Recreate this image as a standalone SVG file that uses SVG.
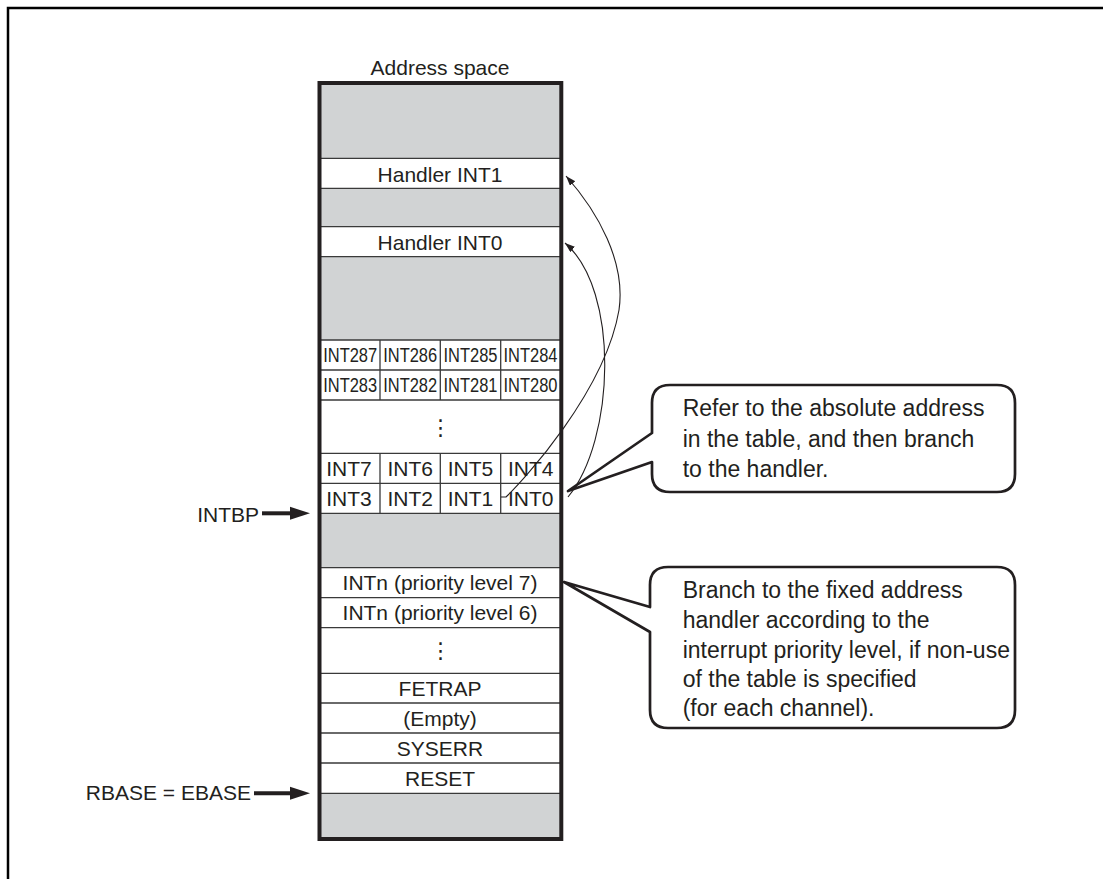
<svg xmlns="http://www.w3.org/2000/svg" width="1103" height="879" viewBox="0 0 1103 879">
<style>
.t{font-family:"Liberation Sans",Arial,sans-serif;font-size:21px;fill:#231f20}
.n{font-size:20px}
.m{text-anchor:middle}
.e{text-anchor:end}
.ct{font-family:"Liberation Sans",Arial,sans-serif;font-size:23px;fill:#231f20}
.dots{font-family:"DejaVu Sans",sans-serif;font-size:22px;fill:#231f20;text-anchor:middle}
.gray{fill:#d1d3d4}
.rl{stroke:#3a3a3a;stroke-width:1.3;fill:none}
.box{fill:#fff;stroke:#231f20;stroke-width:2.7;stroke-linejoin:round}
.cv{fill:none;stroke:#231f20;stroke-width:1.1}
.fat{stroke:#231f20;stroke-width:4;fill:none}
.head{fill:#231f20}
</style>
<defs>
<marker id="ah" markerUnits="userSpaceOnUse" markerWidth="11" markerHeight="8" refX="10" refY="3.5" orient="auto">
<path d="M0,0 L10,3.5 L0,7 z" fill="#231f20"/>
</marker>
</defs>
<rect width="1103" height="879" fill="#fff"/>
<path d="M8,879 V8 H1103" fill="none" stroke="#000" stroke-width="2.5"/>

<g id="address-space">
<text class="t m" x="440" y="75">Address space</text>
<rect x="320" y="83" width="241" height="756" fill="#fff"/>
<rect class="gray" x="320" y="83" width="241" height="75.3"/>
<rect class="gray" x="320" y="188.3" width="241" height="38.4"/>
<rect class="gray" x="320" y="256.7" width="241" height="83.3"/>
<rect class="gray" x="320" y="513.3" width="241" height="54.4"/>
<rect class="gray" x="320" y="793.3" width="241" height="46"/>
<g id="rows">
<path class="rl" d="M320,158.3H561M320,188.3H561M320,226.7H561M320,256.7H561M320,340H561M320,370H561M320,400H561M320,453.3H561M320,483.3H561M320,513.3H561M320,567.7H561M320,597.7H561M320,627.7H561M320,673.3H561M320,703H561M320,733H561M320,763H561M320,793.3H561"/>
<path class="rl" d="M380,340V400M440.3,340V400M500.7,340V400M380,453.3V513.3M440.3,453.3V513.3M500.7,453.3V513.3"/>
</g>
<g id="handler-int1"><text class="t m" x="440" y="181.5">Handler INT1</text></g>
<g id="handler-int0"><text class="t m" x="440" y="249.8">Handler INT0</text></g>
<g id="table-high">
<text class="t n m" x="350.2" y="362" textLength="54" lengthAdjust="spacingAndGlyphs">INT287</text>
<text class="t n m" x="410.2" y="362" textLength="54" lengthAdjust="spacingAndGlyphs">INT286</text>
<text class="t n m" x="470.5" y="362" textLength="54" lengthAdjust="spacingAndGlyphs">INT285</text>
<text class="t n m" x="530.5" y="362" textLength="54" lengthAdjust="spacingAndGlyphs">INT284</text>
<text class="t n m" x="350.2" y="392" textLength="54" lengthAdjust="spacingAndGlyphs">INT283</text>
<text class="t n m" x="410.2" y="392" textLength="54" lengthAdjust="spacingAndGlyphs">INT282</text>
<text class="t n m" x="470.5" y="392" textLength="54" lengthAdjust="spacingAndGlyphs">INT281</text>
<text class="t n m" x="530.5" y="392" textLength="54" lengthAdjust="spacingAndGlyphs">INT280</text>
</g>
<g id="table-dots"><text class="dots" x="440.5" y="435">⋮</text></g>
<g id="table-low">
<text class="t m" x="349" y="475.5">INT7</text>
<text class="t m" x="410.2" y="475.5">INT6</text>
<text class="t m" x="470.5" y="475.5">INT5</text>
<text class="t m" x="530.8" y="475.5">INT4</text>
<text class="t m" x="349" y="505.5">INT3</text>
<text class="t m" x="410.2" y="505.5">INT2</text>
<text class="t m" x="470.5" y="505.5">INT1</text>
<text class="t m" x="530.8" y="505.5">INT0</text>
</g>
<g id="intn7"><text class="t m" x="440" y="590">INTn (priority level 7)</text></g>
<g id="intn6"><text class="t m" x="440" y="620">INTn (priority level 6)</text></g>
<g id="fixed-dots"><text class="dots" x="440.5" y="658">⋮</text></g>
<g id="fetrap"><text class="t m" x="440" y="695.5">FETRAP</text></g>
<g id="empty"><text class="t m" x="440" y="725.5">(Empty)</text></g>
<g id="syserr"><text class="t m" x="440" y="755.5">SYSERR</text></g>
<g id="reset"><text class="t m" x="440" y="785.5">RESET</text></g>
<rect x="319.5" y="83" width="241.8" height="756" fill="none" stroke="#231f20" stroke-width="4"/>
</g>

<g id="label-intbp"><text class="t e" x="259" y="521.7">INTBP</text></g>
<g id="label-rbase"><text class="t e" x="251" y="800">RBASE = EBASE</text></g>

<g id="callout-table">
<path class="box" d="M652,433 V403 Q652,385 670,385 H997 Q1015,385 1015,403 V474 Q1015,492 997,492 H670 Q652,492 652,474 V462 L568,491 Z"/>
<text class="ct" x="682.7" y="416">Refer to the absolute address</text>
<text class="ct" x="682.7" y="446.5">in the table, and then branch</text>
<text class="ct" x="682.7" y="476.7">to the handler.</text>
</g>

<g id="callout-fixed">
<path class="box" d="M650,607 V585 Q650,567 668,567 H997 Q1015,567 1015,585 V710 Q1015,728 997,728 H668 Q650,728 650,710 V632 L564,582 Z"/>
<text class="ct" x="682.7" y="598">Branch to the fixed address</text>
<text class="ct" x="682.7" y="628">handler according to the</text>
<text class="ct" x="682.7" y="657.5">interrupt priority level, if non-use</text>
<text class="ct" x="682.7" y="687">of the table is specified</text>
<text class="ct" x="682.7" y="716">(for each channel).</text>
</g>

<g id="connectors">
<path class="cv" d="M501,497 L506,497 C522,482 605,392 619,310 C626,262 598,212 566,176" marker-end="url(#ah)"/>
<path class="cv" d="M568,497 C615,440 620,290 565,243" marker-end="url(#ah)"/>
<path class="fat" d="M262,513.3 H292"/>
<path class="head" d="M290,506.8 L310,513.3 L290,519.8 Z"/>
<path class="fat" d="M254,793.3 H292"/>
<path class="head" d="M290,786.8 L310,793.3 L290,799.8 Z"/>
</g>
</svg>
